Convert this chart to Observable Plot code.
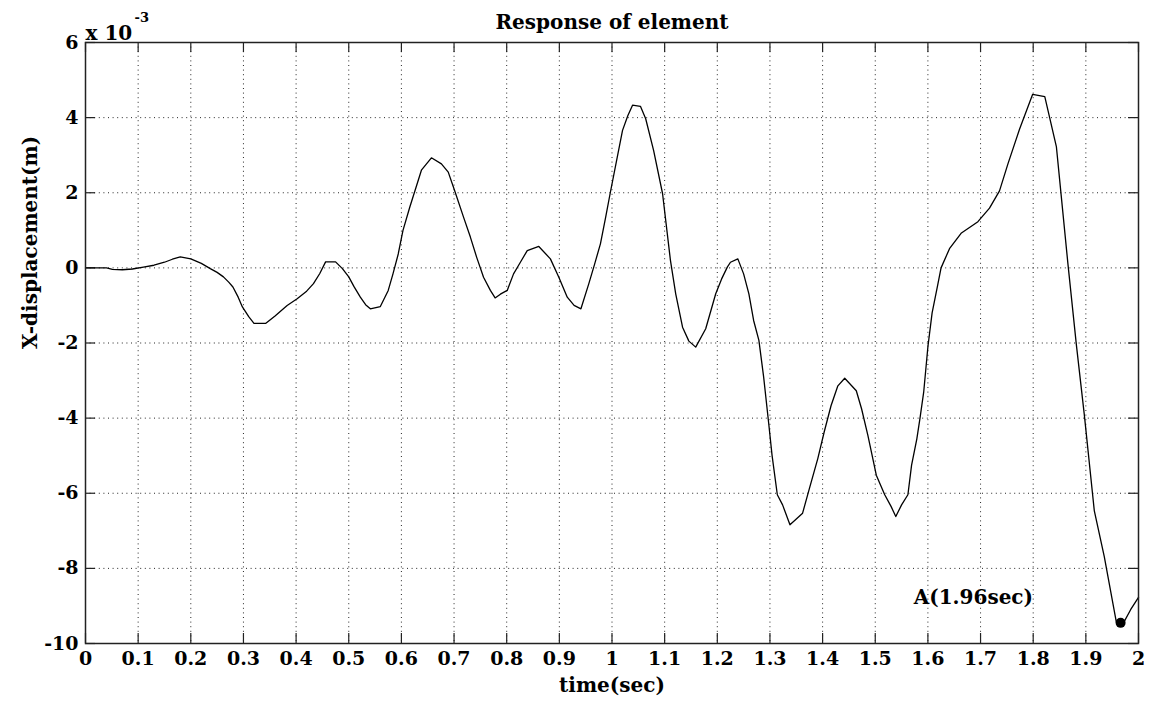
<!DOCTYPE html>
<html>
<head>
<meta charset="utf-8">
<script src="https://cdn.jsdelivr.net/npm/d3@7"></script>
<script src="https://cdn.jsdelivr.net/npm/@observablehq/plot@0.6"></script>
<style>
  html, body { margin: 0; padding: 0; background: #fff; }
  #chart svg { display: block; }
</style>
</head>
<body>
<div id="chart"></div>
<script>
// time (sec)
const time = [0, 0.02, 0.04, 0.051, 0.07, 0.089, 0.11, 0.13, 0.15, 0.165, 0.18, 0.2, 0.22, 0.237, 0.25, 0.262, 0.272, 0.28, 0.29, 0.298, 0.31, 0.32, 0.342, 0.36, 0.383, 0.402, 0.42, 0.433, 0.445, 0.456, 0.475, 0.488, 0.5, 0.51, 0.522, 0.532, 0.541, 0.56, 0.575, 0.584, 0.594, 0.603, 0.616, 0.625, 0.638, 0.657, 0.676, 0.689, 0.702, 0.718, 0.731, 0.743, 0.756, 0.769, 0.778, 0.788, 0.801, 0.813, 0.826, 0.839, 0.861, 0.883, 0.899, 0.915, 0.928, 0.941, 0.956, 0.967, 0.978, 0.988, 0.997, 1.01, 1.02, 1.03, 1.039, 1.054, 1.064, 1.079, 1.096, 1.111, 1.121, 1.134, 1.146, 1.159, 1.178, 1.197, 1.208, 1.219, 1.225, 1.239, 1.25, 1.26, 1.269, 1.279, 1.288, 1.298, 1.304, 1.314, 1.324, 1.338, 1.349, 1.362, 1.375, 1.391, 1.403, 1.416, 1.429, 1.442, 1.464, 1.474, 1.486, 1.502, 1.518, 1.53, 1.539, 1.55, 1.562, 1.569, 1.579, 1.585, 1.592, 1.6, 1.608, 1.618, 1.625, 1.641, 1.663, 1.695, 1.717, 1.736, 1.752, 1.774, 1.799, 1.822, 1.844, 1.853, 1.866, 1.882, 1.897, 1.916, 1.935, 1.958, 1.97, 1.985, 2.0];
// X-displacement (x 10^-3 m)
const disp = [0, 0, 0, -0.04, -0.05, -0.03, 0.02, 0.07, 0.15, 0.23, 0.29, 0.24, 0.12, -0.02, -0.12, -0.24, -0.38, -0.51, -0.78, -1.04, -1.3, -1.48, -1.48, -1.28, -1.0, -0.82, -0.62, -0.42, -0.15, 0.16, 0.16, -0.02, -0.24, -0.5, -0.78, -0.98, -1.09, -1.03, -0.6, -0.16, 0.37, 1.0, 1.62, 2.02, 2.6, 2.93, 2.77, 2.55, 2.02, 1.35, 0.82, 0.28, -0.25, -0.6, -0.8, -0.7, -0.6, -0.16, 0.15, 0.46, 0.57, 0.24, -0.25, -0.78, -1.0, -1.09, -0.42, 0.1, 0.64, 1.35, 2.02, 2.95, 3.66, 4.05, 4.33, 4.3, 3.97, 3.13, 1.98, 0.2, -0.69, -1.58, -1.95, -2.11, -1.62, -0.69, -0.3, 0.02, 0.15, 0.24, -0.16, -0.69, -1.4, -1.93, -2.9, -4.19, -4.99, -6.04, -6.31, -6.84, -6.7, -6.53, -5.87, -5.07, -4.37, -3.67, -3.14, -2.94, -3.27, -3.75, -4.46, -5.52, -6.04, -6.35, -6.62, -6.31, -6.04, -5.25, -4.55, -4.0, -3.31, -2.1, -1.2, -0.5, 0, 0.51, 0.92, 1.23, 1.59, 2.05, 2.77, 3.69, 4.62, 4.56, 3.23, 1.95, 0.1, -2.05, -3.9, -6.46, -7.69, -9.44, -9.49, -9.1, -8.77];

const xTicks = [0, 0.1, 0.2, 0.3, 0.4, 0.5, 0.6, 0.7, 0.8, 0.9, 1, 1.1, 1.2, 1.3, 1.4, 1.5, 1.6, 1.7, 1.8, 1.9, 2];
const xTickLabels = ["0", "0.1", "0.2", "0.3", "0.4", "0.5", "0.6", "0.7", "0.8", "0.9", "1", "1.1", "1.2", "1.3", "1.4", "1.5", "1.6", "1.7", "1.8", "1.9", "2"];
const yTicks = [-10, -8, -6, -4, -2, 0, 2, 4, 6];
const yTickLabels = ["-10", "-8", "-6", "-4", "-2", "0", "2", "4", "6"];

const pointA = [{t: 1.966, v: -9.45}];
const annotation = [{t: 1.573, v: -8.77, label: "A(1.96sec)"}];

const title = "Response of element";
const xLabel = "time(sec)";
const yLabel = "X-displacement(m)";
const exponentBase = "x 10";
const exponentPower = "-3";

const data = time.map((t, i) => ({t, v: disp[i]}));

const W = 1151, H = 708;
const mL = 85, mR = 13, mT = 42, mB = 65;
const innerW = W - mL - mR, innerH = H - mT - mB;
const tickLen = 10;
const dotted = {stroke: "#000", strokeOpacity: 0.85, strokeWidth: 1, strokeDasharray: "1,3.6"};

const chart = Plot.plot({
  width: W,
  height: H,
  marginLeft: mL,
  marginRight: mR,
  marginTop: mT,
  marginBottom: mB,
  style: {fontFamily: "'DejaVu Serif', serif", fontWeight: "bold", background: "#fff", color: "#000", overflow: "visible"},
  x: {domain: [0, 2]},
  y: {domain: [-10, 6]},
  marks: [
    Plot.gridX(xTicks.slice(1, -1), dotted),
    Plot.gridY(yTicks.slice(1, -1), dotted),
    // inward ticks on all four sides
    Plot.tickX(xTicks, {x: d => d, insetTop: innerH - tickLen, stroke: "#222", strokeWidth: 1.2}),
    Plot.tickX(xTicks, {x: d => d, insetBottom: innerH - tickLen, stroke: "#222", strokeWidth: 1.2}),
    Plot.tickY(yTicks, {y: d => d, insetRight: innerW - tickLen, stroke: "#222", strokeWidth: 1.2}),
    Plot.tickY(yTicks, {y: d => d, insetLeft: innerW - tickLen, stroke: "#222", strokeWidth: 1.2}),
    Plot.axisX({ticks: xTicks, tickSize: 0, tickPadding: 8, tickFormat: d => xTickLabels[xTicks.indexOf(d)], label: null, fontSize: 19, fontWeight: "bold"}),
    Plot.axisY({ticks: yTicks, tickSize: 0, tickPadding: 7, tickFormat: d => yTickLabels[yTicks.indexOf(d)], label: null, fontSize: 19, fontWeight: "bold"}),
    Plot.line(data, {x: "t", y: "v", stroke: "#000", strokeWidth: 1.3}),
    Plot.dot(pointA, {x: "t", y: "v", r: 5, fill: "#000"}),
    Plot.text(annotation, {x: "t", y: "v", text: "label", textAnchor: "start", fontSize: 20, fontWeight: "bold"}),
    Plot.frame({stroke: "#222", strokeWidth: 1.5}),
    Plot.text([title], {frameAnchor: "top", dy: -28, fontSize: 20, fontWeight: "bold"}),
    Plot.text([xLabel], {frameAnchor: "bottom", dy: 48, fontSize: 20, fontWeight: "bold"}),
    Plot.text([yLabel], {frameAnchor: "left", dx: -55, dy: 6, rotate: -90, fontSize: 20, fontWeight: "bold"}),
    Plot.text([exponentBase], {frameAnchor: "top-left", dx: 0, dy: -17, textAnchor: "start", fontSize: 20, fontWeight: "bold"}),
    Plot.text([exponentPower], {frameAnchor: "top-left", dx: 49, dy: -30, textAnchor: "start", fontSize: 13, fontWeight: "bold"})
  ]
});

document.getElementById("chart").appendChild(chart);
</script>
</body>
</html>
